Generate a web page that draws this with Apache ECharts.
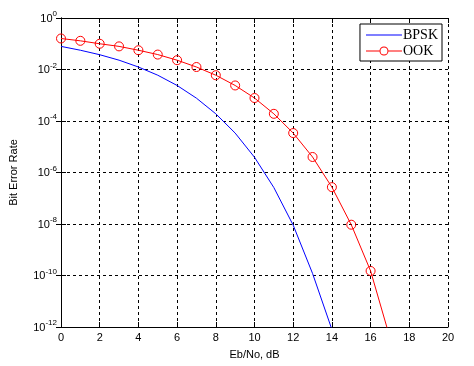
<!DOCTYPE html>
<html>
<head>
<meta charset="utf-8">
<script src="https://cdn.jsdelivr.net/npm/echarts@6/dist/echarts.min.js"></script>
<style>
html,body{margin:0;padding:0;background:#fff;}
#c{width:474px;height:366px;}
</style>
</head>
<body>
<div id="c"></div>
<script>
var ebno = [0,1,2,3,4,5,6,7,8,9,10,11,12,13,14,15,16,17];
var bpsk = [7.9e-2, 5.6e-2, 3.75e-2, 2.3e-2, 1.25e-2, 6.0e-3, 2.4e-3, 7.7e-4, 1.9e-4, 3.4e-5, 3.9e-6, 2.6e-7, 9.0e-9, 1.2e-10, 8e-13];
var ook = [1.6e-1, 1.3e-1, 1.0e-1, 7.9e-2, 5.6e-2, 3.8e-2, 2.3e-2, 1.25e-2, 6.0e-3, 2.4e-3, 7.8e-4, 1.9e-4, 3.4e-5, 4.0e-6, 2.7e-7, 9.4e-9, 1.5e-10, 3.8e-13];
var xTicks = [0,2,4,6,8,10,12,14,16,18,20];
var yExps = [0,-2,-4,-6,-8,-10,-12];
var seriesNames = ['BPSK','OOK'];

var chart = echarts.init(document.getElementById('c'));
var font = 'Liberation Sans, Arial, sans-serif';
function pairs(ys){ return ys.map(function(v,i){ return [ebno[i], v]; }); }
var gridLine = {show:true, lineStyle:{color:'#000', width:1, type:[3,3]}};
var lineIcon = 'path://M0,4.5 L36,4.5 L36,5.5 L0,5.5 Z M0,0 L0.01,0 L0.01,0.01 Z M0,10 L0.01,10 L0.01,9.99 Z';
var ringIcon = 'path://M0,4.5 L13.5,4.5 L13.5,5.5 L0,5.5 Z M22.5,4.5 L36,4.5 L36,5.5 L22.5,5.5 Z ' +
  'M13.5,5 A4.5,4.5 0 1,0 22.5,5 A4.5,4.5 0 1,0 13.5,5 Z M14.5,5 A3.5,3.5 0 1,1 21.5,5 A3.5,3.5 0 1,1 14.5,5 Z ' +
  'M0,0 L0.01,0 L0.01,0.01 Z M0,10 L0.01,10 L0.01,9.99 Z';
chart.setOption({
  backgroundColor:'#fff',
  animation:false,
  grid:{left:52, right:26, top:18, bottom:39, containLabel:false},
  legend:{
    orient:'vertical', right:32, top:24,
    data:[
      {name:seriesNames[0], icon:lineIcon, itemStyle:{color:'#0000ff', borderWidth:0}},
      {name:seriesNames[1], icon:ringIcon, itemStyle:{color:'#ff0000', borderWidth:0}}
    ],
    backgroundColor:'#fff', borderColor:'#000', borderWidth:1,
    padding:[4,4,3,6], itemGap:2, itemWidth:36, itemHeight:10,
    textStyle:{fontFamily:'Liberation Serif, Times New Roman, serif', fontSize:14, color:'#000', padding:[0,0,0,-4]}
  },
  xAxis:[{
    type:'value', min:0, max:20, interval:2,
    name:'Eb/No, dB', nameLocation:'middle', nameGap:22,
    nameTextStyle:{fontFamily:font, fontSize:11, color:'#000'},
    axisLine:{show:true, lineStyle:{color:'#000', width:1}},
    axisTick:{show:true, inside:true, length:5, lineStyle:{color:'#000'}},
    axisLabel:{fontFamily:font, fontSize:11, color:'#000', margin:5},
    splitLine:gridLine
  },{
    type:'value', min:0, max:20, interval:2, position:'top',
    axisLine:{show:true, lineStyle:{color:'#000', width:1}},
    axisTick:{show:true, inside:true, length:5, lineStyle:{color:'#000'}},
    axisLabel:{show:false}, splitLine:{show:false}
  }],
  yAxis:[{
    type:'log', logBase:10, min:1e-12, max:1, interval:2,
    name:'Bit Error Rate', nameLocation:'middle', nameGap:42,
    nameTextStyle:{fontFamily:font, fontSize:11, color:'#000'},
    axisLine:{show:true, lineStyle:{color:'#000', width:1}},
    axisTick:{show:true, inside:true, length:5, lineStyle:{color:'#000'}},
    minorTick:{show:false},
    axisLabel:{
      fontFamily:font, color:'#000', margin:4,
      formatter:function(v){
        var e = Math.round(Math.log10(v));
        return '{b|10}{s|' + e + '}';
      },
      rich:{
        b:{fontFamily:font, fontSize:11, color:'#000', verticalAlign:'bottom', lineHeight:12},
        s:{fontFamily:font, fontSize:8, color:'#000', verticalAlign:'bottom', lineHeight:9, padding:[0,0,6,0]}
      }
    },
    splitLine:gridLine
  },{
    type:'log', logBase:10, min:1e-12, max:1, interval:2, position:'right',
    axisLine:{show:true, lineStyle:{color:'#000', width:1}},
    axisTick:{show:true, inside:true, length:5, lineStyle:{color:'#000'}},
    axisLabel:{show:false}, splitLine:{show:false}
  }],
  series:[{
    name:seriesNames[0], type:'line', data:pairs(bpsk),
    showSymbol:false, symbol:'none', clip:true,
    lineStyle:{color:'#0000ff', width:1}, itemStyle:{color:'#0000ff'}
  },{
    name:seriesNames[1], type:'line', data:pairs(ook),
    symbol:'circle', symbolSize:9, clip:true,
    lineStyle:{color:'#ff0000', width:1},
    itemStyle:{color:'rgba(255,255,255,0)', borderColor:'#ff0000', borderWidth:1}
  }]
});
</script>
</body>
</html>
